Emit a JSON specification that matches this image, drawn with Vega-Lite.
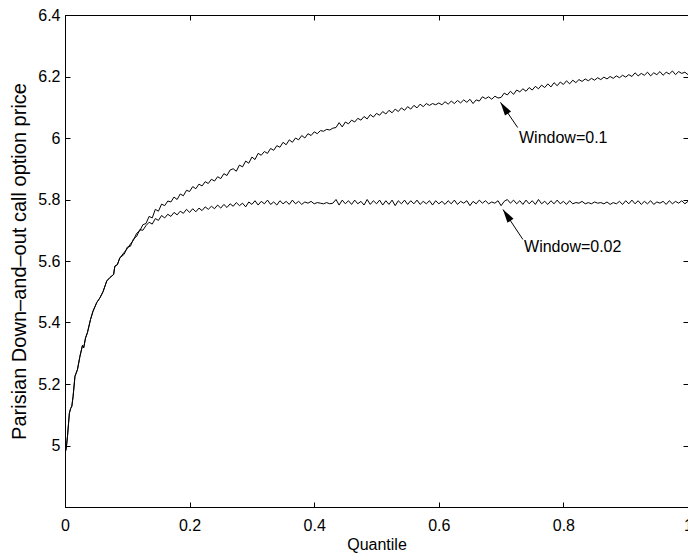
{
  "$schema": "https://vega.github.io/schema/vega-lite/v6.json",
  "width": 623,
  "height": 492,
  "autosize": {"type": "none"},
  "padding": {"left": 65, "top": 15, "right": 0, "bottom": 47},
  "background": "white",
  "config": {
    "view": {"stroke": "black", "strokeWidth": 1},
    "font": "Liberation Sans",
    "axis": {
      "domainColor": "black", "domainWidth": 1, "tickColor": "black", "tickWidth": 1,
      "labelColor": "black", "labelFontSize": 16, "labelFont": "Liberation Sans",
      "titleColor": "black", "titleFontSize": 16, "titleFontWeight": "normal", "titleFont": "Liberation Sans",
      "grid": false, "labelFlush": false, "labelOverlap": false, "tickSize": -5
    }
  },
  "datasets": {
    "curves": [
      {"q":0.000,"a":4.975,"b":4.975},{"q":0.002,"a":4.99,"b":4.99},{"q":0.004,"a":5.03,"b":5.03},{"q":0.007,"a":5.105,"b":5.105},
      {"q":0.009,"a":5.12,"b":5.12},{"q":0.011,"a":5.128,"b":5.128},{"q":0.013,"a":5.16,"b":5.16},{"q":0.016,"a":5.225,"b":5.225},
      {"q":0.020,"a":5.247,"b":5.247},{"q":0.024,"a":5.29,"b":5.29},{"q":0.028,"a":5.325,"b":5.325},{"q":0.030,"a":5.318,"b":5.318},
      {"q":0.033,"a":5.35,"b":5.35},{"q":0.036,"a":5.367,"b":5.367},{"q":0.041,"a":5.41,"b":5.41},{"q":0.045,"a":5.437,"b":5.437},
      {"q":0.051,"a":5.465,"b":5.465},{"q":0.056,"a":5.48,"b":5.48},{"q":0.061,"a":5.50,"b":5.50},{"q":0.067,"a":5.535,"b":5.535},
      {"q":0.072,"a":5.546,"b":5.546},{"q":0.078,"a":5.556,"b":5.556},{"q":0.080,"a":5.583,"b":5.583},{"q":0.084,"a":5.588,"b":5.588},
      {"q":0.088,"a":5.61,"b":5.61},
      {"q":0.095,"a":5.628,"b":5.622},{"q":0.100,"a":5.640,"b":5.645},{"q":0.105,"a":5.655,"b":5.648},{"q":0.110,"a":5.668,"b":5.672},
      {"q":0.115,"a":5.690,"b":5.680},{"q":0.120,"a":5.698,"b":5.702},{"q":0.125,"a":5.718,"b":5.700},{"q":0.130,"a":5.722,"b":5.715},
      {"q":0.135,"a":5.745,"b":5.726},{"q":0.140,"a":5.740,"b":5.720},{"q":0.145,"a":5.768,"b":5.738},{"q":0.150,"a":5.762,"b":5.732},
      {"q":0.155,"a":5.785,"b":5.748},{"q":0.160,"a":5.780,"b":5.740},{"q":0.165,"a":5.795,"b":5.752},{"q":0.170,"a":5.792,"b":5.745},
      {"q":0.175,"a":5.808,"b":5.758},{"q":0.180,"a":5.800,"b":5.750},{"q":0.185,"a":5.818,"b":5.762},{"q":0.190,"a":5.812,"b":5.755},
      {"q":0.195,"a":5.830,"b":5.768},{"q":0.200,"a":5.826,"b":5.758},{"q":0.205,"a":5.842,"b":5.770},{"q":0.210,"a":5.835,"b":5.760},
      {"q":0.215,"a":5.850,"b":5.772},{"q":0.220,"a":5.844,"b":5.764},{"q":0.225,"a":5.858,"b":5.776},{"q":0.230,"a":5.852,"b":5.768},
      {"q":0.235,"a":5.866,"b":5.778},{"q":0.240,"a":5.860,"b":5.770},{"q":0.245,"a":5.874,"b":5.782},{"q":0.250,"a":5.868,"b":5.772},
      {"q":0.255,"a":5.884,"b":5.784},{"q":0.260,"a":5.878,"b":5.774},{"q":0.265,"a":5.896,"b":5.786},{"q":0.270,"a":5.900,"b":5.778},
      {"q":0.275,"a":5.892,"b":5.790},{"q":0.280,"a":5.912,"b":5.780},{"q":0.285,"a":5.906,"b":5.788},{"q":0.290,"a":5.925,"b":5.776},
      {"q":0.295,"a":5.918,"b":5.792},{"q":0.300,"a":5.938,"b":5.784},{"q":0.305,"a":5.930,"b":5.796},{"q":0.310,"a":5.950,"b":5.782},
      {"q":0.315,"a":5.944,"b":5.794},{"q":0.320,"a":5.956,"b":5.786},{"q":0.325,"a":5.950,"b":5.798},{"q":0.330,"a":5.966,"b":5.784},
      {"q":0.335,"a":5.960,"b":5.792},{"q":0.340,"a":5.975,"b":5.782},{"q":0.345,"a":5.970,"b":5.796},{"q":0.350,"a":5.986,"b":5.786},
      {"q":0.355,"a":5.978,"b":5.794},{"q":0.360,"a":5.994,"b":5.784},{"q":0.365,"a":5.986,"b":5.798},{"q":0.370,"a":6.000,"b":5.786},
      {"q":0.375,"a":5.994,"b":5.794},{"q":0.380,"a":6.008,"b":5.784},{"q":0.385,"a":6.000,"b":5.792},{"q":0.390,"a":6.014,"b":5.788},
      {"q":0.395,"a":6.008,"b":5.794},{"q":0.400,"a":6.020,"b":5.786},{"q":0.405,"a":6.014,"b":5.790},{"q":0.410,"a":6.024,"b":5.788},
      {"q":0.415,"a":6.022,"b":5.786},{"q":0.420,"a":6.028,"b":5.790},{"q":0.425,"a":6.026,"b":5.786},{"q":0.430,"a":6.032,"b":5.788},
      {"q":0.435,"a":6.034,"b":5.800},{"q":0.440,"a":6.050,"b":5.782},{"q":0.445,"a":6.036,"b":5.798},{"q":0.450,"a":6.052,"b":5.786},
      {"q":0.455,"a":6.046,"b":5.796},{"q":0.460,"a":6.058,"b":5.784},{"q":0.465,"a":6.052,"b":5.798},{"q":0.470,"a":6.064,"b":5.786},
      {"q":0.475,"a":6.058,"b":5.794},{"q":0.480,"a":6.070,"b":5.782},{"q":0.485,"a":6.062,"b":5.800},{"q":0.490,"a":6.076,"b":5.784},
      {"q":0.495,"a":6.068,"b":5.796},{"q":0.500,"a":6.080,"b":5.786},{"q":0.505,"a":6.074,"b":5.798},{"q":0.510,"a":6.086,"b":5.782},
      {"q":0.515,"a":6.078,"b":5.796},{"q":0.520,"a":6.090,"b":5.784},{"q":0.525,"a":6.082,"b":5.798},{"q":0.530,"a":6.094,"b":5.780},
      {"q":0.535,"a":6.086,"b":5.796},{"q":0.540,"a":6.098,"b":5.786},{"q":0.545,"a":6.090,"b":5.798},{"q":0.550,"a":6.102,"b":5.784},
      {"q":0.555,"a":6.094,"b":5.796},{"q":0.560,"a":6.106,"b":5.786},{"q":0.565,"a":6.098,"b":5.798},{"q":0.570,"a":6.110,"b":5.784},
      {"q":0.575,"a":6.102,"b":5.794},{"q":0.580,"a":6.112,"b":5.786},{"q":0.585,"a":6.106,"b":5.796},{"q":0.590,"a":6.112,"b":5.782},
      {"q":0.595,"a":6.108,"b":5.796},{"q":0.600,"a":6.114,"b":5.786},{"q":0.605,"a":6.108,"b":5.794},{"q":0.610,"a":6.118,"b":5.784},
      {"q":0.615,"a":6.110,"b":5.796},{"q":0.620,"a":6.120,"b":5.786},{"q":0.625,"a":6.112,"b":5.798},{"q":0.630,"a":6.122,"b":5.784},
      {"q":0.635,"a":6.114,"b":5.794},{"q":0.640,"a":6.124,"b":5.788},{"q":0.645,"a":6.116,"b":5.796},{"q":0.650,"a":6.126,"b":5.780},
      {"q":0.655,"a":6.112,"b":5.794},{"q":0.660,"a":6.124,"b":5.786},{"q":0.665,"a":6.120,"b":5.798},{"q":0.670,"a":6.134,"b":5.788},
      {"q":0.675,"a":6.128,"b":5.796},{"q":0.680,"a":6.134,"b":5.786},{"q":0.685,"a":6.126,"b":5.792},{"q":0.690,"a":6.136,"b":5.788},
      {"q":0.695,"a":6.130,"b":5.796},{"q":0.700,"a":6.132,"b":5.780},{"q":0.705,"a":6.146,"b":5.794},{"q":0.710,"a":6.140,"b":5.800},
      {"q":0.715,"a":6.152,"b":5.788},{"q":0.720,"a":6.142,"b":5.798},{"q":0.725,"a":6.156,"b":5.786},{"q":0.730,"a":6.150,"b":5.796},
      {"q":0.735,"a":6.160,"b":5.784},{"q":0.740,"a":6.152,"b":5.798},{"q":0.745,"a":6.164,"b":5.786},{"q":0.750,"a":6.156,"b":5.796},
      {"q":0.755,"a":6.168,"b":5.784},{"q":0.760,"a":6.160,"b":5.800},{"q":0.765,"a":6.172,"b":5.786},{"q":0.770,"a":6.164,"b":5.794},
      {"q":0.775,"a":6.176,"b":5.784},{"q":0.780,"a":6.166,"b":5.796},{"q":0.785,"a":6.180,"b":5.786},{"q":0.790,"a":6.170,"b":5.798},
      {"q":0.795,"a":6.182,"b":5.786},{"q":0.800,"a":6.174,"b":5.794},{"q":0.805,"a":6.186,"b":5.784},{"q":0.810,"a":6.176,"b":5.796},
      {"q":0.815,"a":6.188,"b":5.786},{"q":0.820,"a":6.180,"b":5.790},{"q":0.825,"a":6.190,"b":5.788},{"q":0.830,"a":6.184,"b":5.794},
      {"q":0.835,"a":6.192,"b":5.786},{"q":0.840,"a":6.186,"b":5.790},{"q":0.845,"a":6.194,"b":5.786},{"q":0.850,"a":6.188,"b":5.792},
      {"q":0.855,"a":6.196,"b":5.788},{"q":0.860,"a":6.190,"b":5.790},{"q":0.865,"a":6.198,"b":5.786},{"q":0.870,"a":6.192,"b":5.792},
      {"q":0.875,"a":6.200,"b":5.784},{"q":0.880,"a":6.194,"b":5.790},{"q":0.885,"a":6.202,"b":5.786},{"q":0.890,"a":6.196,"b":5.794},
      {"q":0.895,"a":6.204,"b":5.784},{"q":0.900,"a":6.198,"b":5.796},{"q":0.905,"a":6.206,"b":5.786},{"q":0.910,"a":6.200,"b":5.798},
      {"q":0.915,"a":6.212,"b":5.786},{"q":0.920,"a":6.202,"b":5.796},{"q":0.925,"a":6.210,"b":5.784},{"q":0.930,"a":6.204,"b":5.794},
      {"q":0.935,"a":6.214,"b":5.786},{"q":0.940,"a":6.202,"b":5.796},{"q":0.945,"a":6.212,"b":5.784},{"q":0.950,"a":6.206,"b":5.792},
      {"q":0.955,"a":6.216,"b":5.788},{"q":0.960,"a":6.204,"b":5.794},{"q":0.965,"a":6.214,"b":5.784},{"q":0.970,"a":6.208,"b":5.796},
      {"q":0.975,"a":6.218,"b":5.786},{"q":0.980,"a":6.206,"b":5.794},{"q":0.985,"a":6.216,"b":5.788},{"q":0.990,"a":6.210,"b":5.796},
      {"q":0.995,"a":6.214,"b":5.786},{"q":1.000,"a":6.206,"b":5.794}
    ],
    "notes": [
      {"lab": "Window=0.1", "tq": 0.7266, "tv": 6.034, "hq": 0.699, "hv": 6.116, "xq": 0.7287, "xv": 6.0016},
      {"lab": "Window=0.02", "tq": 0.735, "tv": 5.67, "hq": 0.703, "hv": 5.7675, "xq": 0.7368, "xv": 5.644}
    ]
  },
  "layer": [
    {
      "data": {"name": "curves"},
      "transform": [{"fold": ["a", "b"], "as": ["series", "v"]}],
      "mark": {"type": "line", "color": "black", "strokeWidth": 1, "clip": true},
      "encoding": {
        "x": {"field": "q", "type": "quantitative",
              "scale": {"domain": [0, 1], "nice": false, "zero": false},
              "axis": {"orient": "bottom", "title": "Quantile", "values": [0, 0.2, 0.4, 0.6, 0.8, 1],
                       "format": ".1~f", "labelPadding": 15, "titlePadding": 3}},
        "y": {"field": "v", "type": "quantitative",
              "scale": {"domain": [4.8, 6.4], "nice": false, "zero": false},
              "axis": {"orient": "left", "title": "Parisian Down–and–out call option price",
                       "titleFontSize": 20,
                       "values": [5, 5.2, 5.4, 5.6, 5.8, 6, 6.2, 6.4], "format": ".1~f",
                       "labelPadding": 10, "titlePadding": 8}},
        "detail": {"field": "series"}
      }
    },
    {
      "data": {"name": "notes"},
      "mark": {"type": "rule", "color": "black", "strokeWidth": 1},
      "encoding": {
        "x": {"field": "tq", "type": "quantitative",
              "scale": {"domain": [0, 1], "nice": false, "zero": false},
              "axis": {"orient": "top", "title": null, "labels": false, "domain": false,
                       "values": [0, 0.2, 0.4, 0.6, 0.8, 1]}},
        "y": {"field": "tv", "type": "quantitative",
              "scale": {"domain": [4.8, 6.4], "nice": false, "zero": false},
              "axis": {"orient": "right", "title": null, "labels": false, "domain": false,
                       "values": [5, 5.2, 5.4, 5.6, 5.8, 6, 6.2, 6.4]}},
        "x2": {"field": "hq"},
        "y2": {"field": "hv"}
      }
    },
    {
      "data": {"name": "notes"},
      "mark": {"type": "point", "shape": "M0,0L-0.27,1L0.27,1Z", "filled": true, "color": "black",
               "opacity": 1, "size": 729, "angle": 326},
      "encoding": {
        "x": {"field": "hq", "type": "quantitative", "scale": {"domain": [0, 1], "nice": false, "zero": false}, "axis": null},
        "y": {"field": "hv", "type": "quantitative", "scale": {"domain": [4.8, 6.4], "nice": false, "zero": false}, "axis": null}
      }
    },
    {
      "data": {"name": "notes"},
      "mark": {"type": "text", "align": "left", "baseline": "middle", "fontSize": 16,
               "font": "Liberation Sans", "color": "black"},
      "encoding": {
        "x": {"field": "xq", "type": "quantitative", "scale": {"domain": [0, 1], "nice": false, "zero": false}, "axis": null},
        "y": {"field": "xv", "type": "quantitative", "scale": {"domain": [4.8, 6.4], "nice": false, "zero": false}, "axis": null},
        "text": {"field": "lab"}
      }
    }
  ],
  "resolve": {"axis": {"x": "independent", "y": "independent"}}
}
